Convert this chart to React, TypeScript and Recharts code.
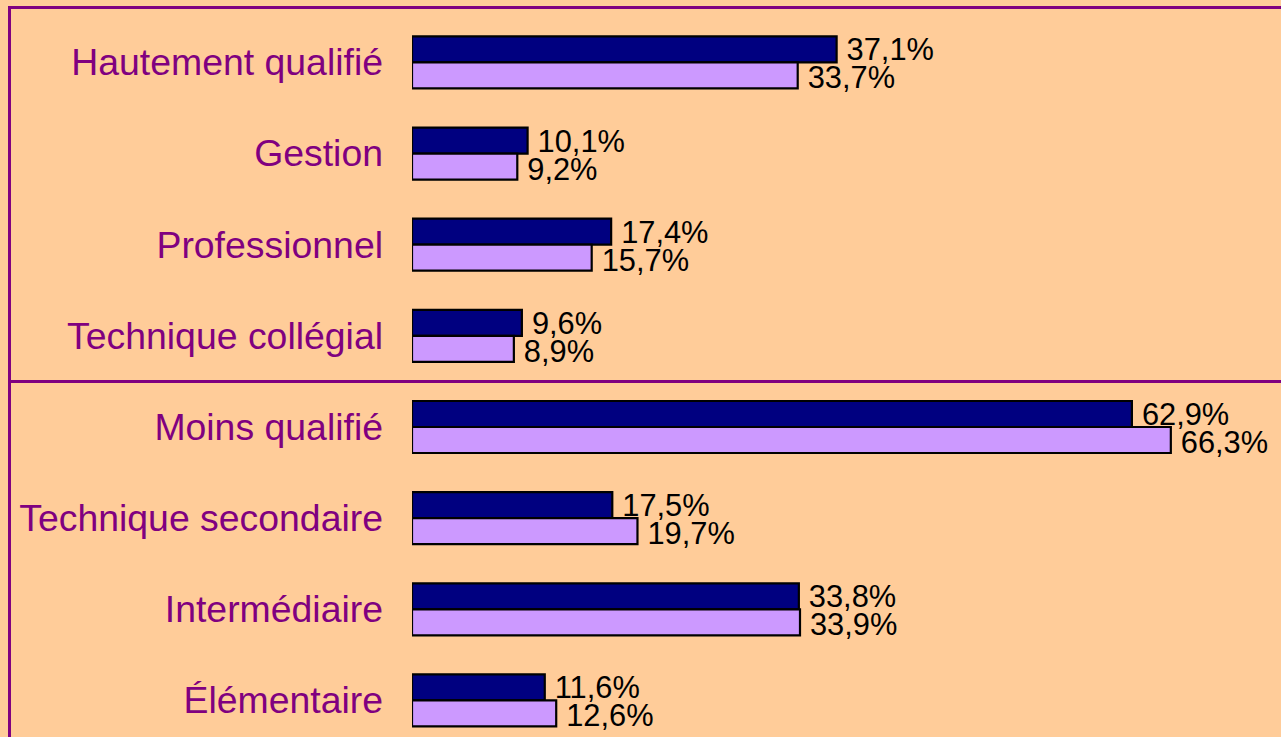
import React from 'react';
import { BarChart, Bar, XAxis, YAxis, LabelList } from 'recharts';

const categories = [
  'Hautement qualifié',
  'Gestion',
  'Professionnel',
  'Technique collégial',
  'Moins qualifié',
  'Technique secondaire',
  'Intermédiaire',
  'Élémentaire',
];
const seriesDark = [37.1, 10.1, 17.4, 9.6, 62.9, 17.5, 33.8, 11.6];
const seriesLight = [33.7, 9.2, 15.7, 8.9, 66.3, 19.7, 33.9, 12.6];
const xDomain: [number, number] = [0, 75];

const data = categories.map((name, i) => ({ name, dark: seriesDark[i], light: seriesLight[i] }));

const FONT = '"Liberation Sans", Arial, Helvetica, sans-serif';
const BG = '#FFCC99';
const PURPLE = '#800080';

if (typeof document !== 'undefined') {
  document.body.style.margin = '0';
  document.body.style.background = BG;
}

const W = 1281;
const H = 737;
const CHART_H = 760;
const PLOT_TOP = 16.43;
const PLOT_BOTTOM = 745.57;
const PLOT_LEFT = 412;
const PLOT_RIGHT = 1270.4;
const BAND = (PLOT_BOTTOM - PLOT_TOP) / categories.length;

const fmt = (v: number) => v.toFixed(1).replace('.', ',') + '%';

const makeLabel = (dy: number) => (props: any) => {
  const { x, y, width, height, value } = props;
  return (
    <text
      x={Number(x) + Number(width) + 10}
      y={Number(y) + Number(height) / 2 + dy}
      dy="0.355em"
      fontSize={30.8}
      fontFamily={FONT}
      fill="#000"
      textAnchor="start"
    >
      {fmt(Number(value))}
    </text>
  );
};

const CategoryTick = (props: any) => {
  const { x, y, payload } = props;
  return (
    <text x={x} y={y} dy="0.355em" textAnchor="end" fontSize={37.4} fontFamily={FONT} fill={PURPLE}>
      {payload.value}
    </text>
  );
};

export default function App() {
  return (
    <div style={{ position: 'relative', width: W, height: H, overflow: 'hidden', background: BG }}>
      <div
        style={{
          position: 'absolute',
          left: 8,
          top: 6,
          width: W + 40,
          height: H + 40,
          border: `3px solid ${PURPLE}`,
          boxSizing: 'border-box',
        }}
      />
      <div
        style={{
          position: 'absolute',
          left: 8,
          top: PLOT_TOP + 4 * BAND - 1.5,
          width: W,
          height: 3,
          background: PURPLE,
        }}
      />
      <div style={{ position: 'absolute', left: 0, top: 0 }}>
        <BarChart
          width={W}
          height={CHART_H}
          data={data}
          layout="vertical"
          margin={{ top: PLOT_TOP, right: W - PLOT_RIGHT, bottom: CHART_H - PLOT_BOTTOM, left: 0 }}
          barGap={0}
          barSize={26}
        >
          <XAxis type="number" domain={xDomain} hide allowDataOverflow />
          <YAxis
            type="category"
            dataKey="name"
            width={PLOT_LEFT}
            axisLine={false}
            tickLine={false}
            tickSize={0}
            tickMargin={29}
            interval={0}
            tick={<CategoryTick />}
          />
          <Bar dataKey="dark" fill="#000080" stroke="#000" strokeWidth={2.2} isAnimationActive={false}>
            <LabelList dataKey="dark" content={makeLabel(0)} />
          </Bar>
          <Bar dataKey="light" fill="#CC99FF" stroke="#000" strokeWidth={2.2} isAnimationActive={false}>
            <LabelList dataKey="light" content={makeLabel(2)} />
          </Bar>
        </BarChart>
      </div>
    </div>
  );
}
